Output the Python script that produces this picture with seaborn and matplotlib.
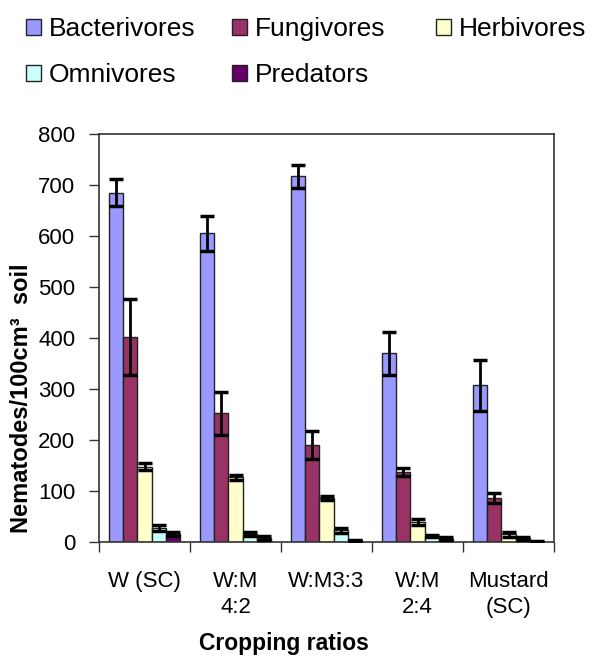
import matplotlib
matplotlib.use("Agg")
import matplotlib.pyplot as plt
import pandas as pd
import seaborn as sns

categories = ["W (SC)", "W:M\n4:2", "W:M3:3", "W:M\n2:4", "Mustard\n(SC)"]
groups = ["Bacterivores", "Fungivores", "Herbivores", "Omnivores", "Predators"]
colors = ["#9999FF", "#993366", "#FFFFCC", "#CCFFFF", "#660066"]

bacterivores = [685, 605, 717, 370, 307]
fungivores = [402, 252, 190, 137, 87]
herbivores = [148, 127, 87, 40, 15]
omnivores = [28, 15, 23, 12, 7]
predators = [15, 8, 3, 6, 1]

bacterivores_err = [27, 35, 22, 42, 50]
fungivores_err = [75, 42, 28, 8, 10]
herbivores_err = [6, 5, 4, 6, 5]
omnivores_err = [6, 4, 5, 2, 3]
predators_err = [4, 4, 1, 3, 1]

values = [bacterivores, fungivores, herbivores, omnivores, predators]
errors = [bacterivores_err, fungivores_err, herbivores_err, omnivores_err, predators_err]

rows = []
for g, vals, errs in zip(groups, values, errors):
    for c, v, e in zip(categories, vals, errs):
        rows.append({"ratio": c, "group": g, "count": v, "err": e})
df = pd.DataFrame(rows)

sns.set_style("white")
plt.rcParams['font.family'] = ['Liberation Sans', 'DejaVu Sans']
plt.rcParams['text.color'] = 'black'
plt.rcParams['axes.labelcolor'] = 'black'
plt.rcParams['xtick.labelcolor'] = 'black'
plt.rcParams['ytick.labelcolor'] = 'black'

W, H = 595, 657
fig = plt.figure(figsize=(W / 100, H / 100), dpi=100)
ax = fig.add_axes([99 / W, (H - 542) / H, 455 / W, 408 / H])

sns.barplot(data=df, x="ratio", y="count", hue="group", order=categories,
            hue_order=groups, palette=colors, errorbar=None, width=0.77,
            edgecolor="#222222", linewidth=1.0, saturation=1, ax=ax)

for cont, g in zip(ax.containers, groups):
    sub = df[df.group == g].set_index("ratio").loc[categories]
    xs = [p.get_x() + p.get_width() / 2 for p in cont.patches]
    ax.errorbar(xs, sub["count"].values, yerr=sub["err"].values, fmt="none",
                ecolor="black", elinewidth=2, capsize=5, capthick=2.5, zorder=5)

ax.set_ylim(0, 800)
ax.set_xlim(-0.5, 4.5)
ax.set_yticks(range(0, 801, 100))
ax.tick_params(axis="y", labelsize=16, left=True, length=7, width=1,
               direction="out", pad=10, color="#333333", labelcolor="black")
ax.tick_params(axis="x", which="major", labelsize=16, bottom=False, length=0,
               pad=21, labelcolor="black")
for lbl in ax.get_xticklabels():
    lbl.set_linespacing(1.3)
    lbl.set_verticalalignment("top")
ax.set_xticks([i + 0.5 for i in range(-1, 5)], minor=True)
ax.tick_params(axis="x", which="minor", bottom=True, length=7, width=1,
               direction="out", color="#333333")
for s in ax.spines.values():
    s.set_color("#333333")
    s.set_linewidth(1.2)

ax.set_xlabel("Cropping ratios", fontsize=16.5, fontweight="bold", labelpad=10,
              color="black")
ax.xaxis.label.set_x(0.407)
ax.set_ylabel("Nematodes/100cm³  soil", fontsize=17, fontweight="bold", labelpad=4,
              color="black")
ax.yaxis.label.set_y(0.352)

handles, labels = ax.get_legend_handles_labels()
ax.get_legend().remove()
columns = [([0, 3], 26), ([1, 4], 232), ([2], 436)]
for idx, xpix in columns:
    leg = fig.legend([handles[i] for i in idx], [labels[i] for i in idx],
                     loc="upper left", bbox_to_anchor=(xpix / W, 1 - 17 / H),
                     frameon=False, fontsize=19, handlelength=0.55, handleheight=0.55,
                     handletextpad=0.3, labelspacing=0.85, borderpad=0, borderaxespad=0)
    for t in leg.get_texts():
        t.set_color("black")

fig.savefig("out.png", dpi=100)
